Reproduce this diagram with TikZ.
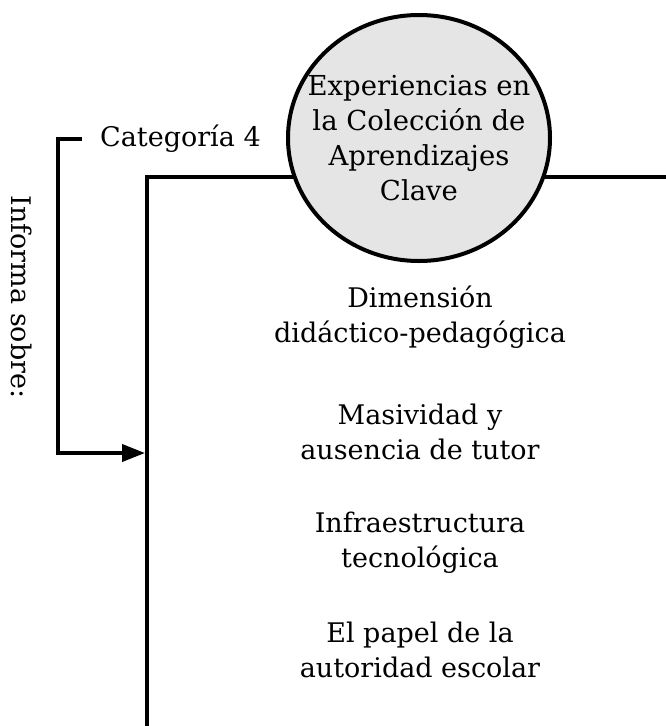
\documentclass[tikz,border=0pt]{standalone}
\usepackage{fontspec}
\setmainfont{DejaVu Serif}
\usetikzlibrary{arrows.meta,shapes.geometric}
\tikzset{
  line/.style={line width=3.8pt},
  tema/.style={align=center,font=\fontsize{27}{35}\selectfont,inner sep=0pt},
  eje/.style={ellipse,draw,line width=4pt,fill=black!10,minimum width=262pt,
    minimum height=246pt,inner sep=0pt}
}
\begin{document}
\begin{tikzpicture}[x=1pt,y=-1pt]
 \useasboundingbox (0,0) rectangle (666,726);
 % marco principal
 \coordinate (base) at (147,726);
 \coordinate (esq) at (147,177);
 \coordinate (der) at (666,177);
 \draw[line] (base) -- (esq) -- (der);
 \node[eje] (exp) at (419,138) {};
 \node[tema,font=\fontsize{27.5}{35}\selectfont] (exptxt) at (exp) {Experiencias en\\la Colección de\\Aprendizajes\\Clave};
 % corchete de la categoria
 \coordinate (ctop) at (82,139);
 \coordinate (cesq) at (58,139);
 \coordinate (cbaj) at (58,453);
 \coordinate (entra) at (145,453);
 \draw[line,-{Triangle[length=23pt,width=17pt]}] (ctop) -- (cesq) -- (cbaj) -- (entra);
 \node[tema,anchor=west] (cat) at (100,139) {Categoría 4};
 \node[tema,rotate=-90] (info) at (22,297) {Informa sobre:};
 % temas
 \node[tema] (dim) at (420,317) {Dimensión\\didáctico-pedagógica};
 \node[tema] (mas) at (420,432) {Masividad y\\ausencia de tutor};
 \node[tema] (inf) at (420,543) {Infraestructura\\tecnológica};
 \node[tema] (aut) at (420,650) {El papel de la\\autoridad escolar};
\end{tikzpicture}
\end{document}
